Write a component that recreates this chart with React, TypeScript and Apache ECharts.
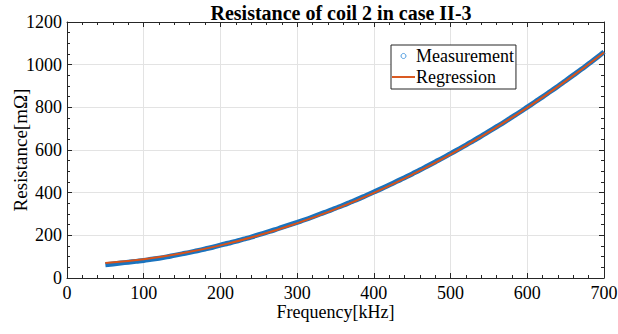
import React, { useEffect, useRef } from "react";
import * as echarts from "echarts";

const measFreq = [50, 60, 70, 80, 90, 100, 110, 120, 130, 140, 150, 160, 170, 180, 190, 200, 210, 220, 230, 240, 250, 260, 270, 280, 290, 300, 310, 320, 330, 340, 350, 360, 370, 380, 390, 400, 410, 420, 430, 440, 450, 460, 470, 480, 490, 500, 510, 520, 530, 540, 550, 560, 570, 580, 590, 600, 610, 620, 630, 640, 650, 660, 670, 680, 690, 700];
const measValues = [62, 66, 70, 74, 78, 82, 88, 93, 99, 106, 113, 120, 128, 136, 144, 154, 163, 172, 182, 192, 203, 214, 225, 237, 249, 261, 273, 286, 300, 313, 327, 341, 356, 371, 387, 403, 419, 436, 453, 470, 488, 506, 525, 544, 563, 583, 603, 623, 644, 665, 687, 709, 731, 754, 777, 801, 825, 849, 874, 899, 925, 951, 977, 1004, 1031, 1060];
const regFreq = [50, 100, 150, 200, 250, 300, 350, 400, 450, 500, 550, 600, 650, 700];
const regValues = [70, 88, 116, 153, 200, 257, 323, 399, 485, 580, 685, 799, 923, 1057];
const xTicks = { min: 0, max: 700, interval: 100 };
const yTicks = { min: 0, max: 1200, interval: 200 };

const FONT = "Liberation Serif";
const AXIS_COLOR = "#262626";

export default function App() {
  const ref = useRef<HTMLDivElement>(null);
  useEffect(() => {
    document.body.style.margin = "0";
    if (!ref.current) return;
    const chart = echarts.init(ref.current, undefined, { renderer: "svg" });
    const baseX = {
      type: "value" as const,
      min: xTicks.min,
      max: xTicks.max,
      interval: xTicks.interval,
      axisLine: { show: true, onZero: false, lineStyle: { color: AXIS_COLOR, width: 1 } },
      axisTick: { show: true, inside: true, length: 5, lineStyle: { color: AXIS_COLOR } },
      minorTick: { show: true, splitNumber: 5, length: 3, lineStyle: { color: AXIS_COLOR } },
    };
    const baseY = {
      type: "value" as const,
      min: yTicks.min,
      max: yTicks.max,
      interval: yTicks.interval,
      axisLine: { show: true, onZero: false, lineStyle: { color: AXIS_COLOR, width: 1 } },
      axisTick: { show: true, inside: true, length: 5, lineStyle: { color: AXIS_COLOR } },
      minorTick: { show: true, splitNumber: 4, length: 3, lineStyle: { color: AXIS_COLOR } },
    };
    chart.setOption({
      animation: false,
      backgroundColor: "#ffffff",
      textStyle: { fontFamily: FONT },
      title: {
        text: "Resistance of coil 2 in case II-3",
        left: 336,
        textAlign: "center",
        top: -2,
        textStyle: { fontFamily: FONT, fontSize: 20, fontWeight: "bold", color: "#000" },
      },
      grid: { left: 67, right: 14, top: 22, bottom: 56, containLabel: false, outerBoundsMode: "none" },
      legend: {
        left: 391,
        top: 45,
        orient: "vertical",
        backgroundColor: "#fff",
        borderColor: "#262626",
        borderWidth: 1,
        borderRadius: 0,
        padding: [2, 2, 3, 1],
        itemGap: 3,
        itemWidth: 23,
        itemHeight: 5,
        textStyle: { fontFamily: FONT, fontSize: 18, color: "#000", padding: [0, 0, 0, -4] },
        data: [
          { name: "Measurement", icon: "circle", itemStyle: { color: "rgba(255,255,255,0)", borderColor: "#4d9be0", borderWidth: 1 } },
          { name: "Regression", icon: "path://M0,0L24,0L24,2L0,2Z", itemStyle: { color: "#D95319", borderWidth: 0 } },
        ],
      },
      xAxis: [
        {
          ...baseX,
          position: "bottom",
          axisLabel: { show: true, fontFamily: FONT, fontSize: 18, lineHeight: 18, color: "#000", margin: 6, formatter: (v: number) => String(v) },
          splitLine: { show: true, lineStyle: { color: "#e3e3e3", width: 1 } },
          name: "Frequency[kHz]",
          nameLocation: "middle",
          nameGap: 25,
          nameMoveOverlap: false,
          nameTextStyle: { fontFamily: FONT, fontSize: 18, lineHeight: 18, color: "#000", verticalAlign: "top" },
        },
        { ...baseX, position: "top", axisLabel: { show: false }, splitLine: { show: false } },
      ],
      yAxis: [
        {
          ...baseY,
          position: "left",
          axisLabel: { show: true, fontFamily: FONT, fontSize: 18, color: "#000", margin: 5, formatter: (v: number) => String(v) },
          splitLine: { show: true, lineStyle: { color: "#e3e3e3", width: 1 } },
          name: "Resistance[mΩ]",
          nameLocation: "middle",
          nameGap: 47,
          nameMoveOverlap: false,
          nameTextStyle: { fontFamily: FONT, fontSize: 19, color: "#000", verticalAlign: "middle" },
        },
        { ...baseY, position: "right", axisLabel: { show: false }, splitLine: { show: false } },
      ],
      series: [
        {
          name: "Measurement",
          type: "line",
          data: measFreq.map((f, i) => [f, measValues[i]]),
          showSymbol: false,
          smooth: true,
          lineStyle: { color: "#1a73be", width: 5 },
          itemStyle: { color: "#1a73be" },
          z: 2,
        },
        {
          name: "Regression",
          type: "line",
          data: regFreq.map((f, i) => [f, regValues[i]]),
          showSymbol: false,
          smooth: true,
          lineStyle: { color: "#D95319", width: 2 },
          itemStyle: { color: "#D95319" },
          z: 3,
        },
      ],
    });
    return () => chart.dispose();
  }, []);
  return <div ref={ref} style={{ width: 618, height: 334, position: "absolute", left: 0, top: 0 }} />;
}
